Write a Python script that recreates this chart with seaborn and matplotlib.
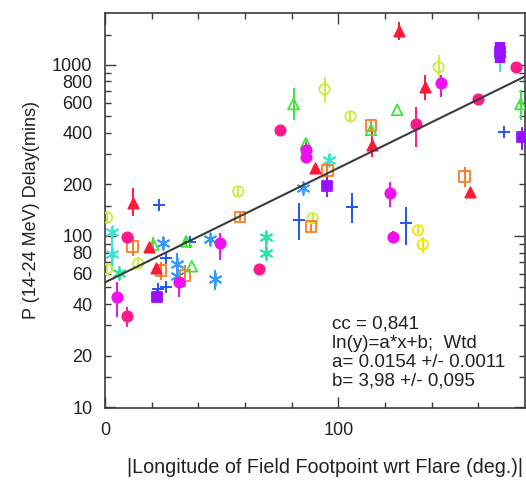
import numpy as np
import matplotlib
matplotlib.use("Agg")
import matplotlib.pyplot as plt
import matplotlib.ticker as mticker
import seaborn as sns

# ── Data ──────────────────────────────────────────────────────────────────────
# yellow-green open circles
ygc_x  = [0.9, 0.9, 14.2, 57.1, 89.0, 94.1, 105.2, 143.0]
ygc_y  = [128, 64, 69, 182, 127, 721, 500, 969]
ygc_lo = [118, 59, 64, 168, 117, 600, 462, 839]
ygc_hi = [139, 69, 75, 197, 137, 851, 541, 1144]

# yellow open circles
yel_x  = [134.2, 136.2]
yel_y  = [108, 89]
yel_lo = [102, 80]
yel_hi = [114, 99]

# orange open squares
ors_x  = [11.9, 24.0, 34.3, 57.9, 88.3, 95.2, 114.0, 154.2]
ors_y  = [87, 63, 59, 129, 113, 241, 440, 222]
ors_lo = [76, 55, 50, 121, 106, 212, 412, 194]
ors_hi = [100, 70, 68, 137, 121, 272, 470, 254]

# deep pink filled circles
dpk_x  = [9.3, 9.3, 66.2, 75.1, 133.4, 160.0, 176.0]
dpk_y  = [99, 34, 64, 417, 450, 630, 977]
dpk_lo = [93, 29.5, 64, 400, 333, 630, 977]
dpk_hi = [106, 38.6, 64, 435, 570, 630, 977]

# magenta filled circles
mag_x  = [5.0, 31.9, 49.1, 86.1, 86.1, 122.3, 123.3, 144.2]
mag_y  = [44, 54, 91, 318, 290, 178, 99, 788]
mag_lo = [33.7, 44, 72, 270, 270, 148, 92, 653]
mag_hi = [54, 59, 104, 350, 350, 208, 107, 874]

# red filled triangles
red_x  = [12.0, 18.9, 21.8, 90.1, 114.5, 126.2, 137.3, 156.4]
red_y  = [156, 86, 65, 249, 340, 1587, 747, 180]
red_lo = [130, 86, 65, 249, 290, 1400, 624, 180]
red_hi = [190, 86, 65, 249, 417, 1791, 874, 180]

# green open triangles
grt_x  = [20.7, 34.8, 37.2, 80.8, 86.1, 114.0, 125.2, 178.1]
grt_y  = [89, 93, 66.5, 591, 348, 417, 546, 591]
grt_lo = [79, 86, 66.5, 477, 330, 417, 546, 477]
grt_hi = [99, 100, 66.5, 734, 370, 417, 546, 714]

# cyan asterisks
cya_x  = [2.8, 2.8, 95.8, 169.3]
cya_y  = [105, 78.5, 278, 1150]
cya_lo = [86, 63, 262, 910]
cya_hi = [113, 96, 300, 1150]

# aquamarine asterisks
aqu_x  = [6.0, 69.1, 69.1]
aqu_y  = [61, 99, 80]
aqu_lo = [61, 74, 74]
aqu_hi = [61, 106, 106]

# light blue asterisks
lbl_x  = [25.0, 31.0, 31.0, 45.1, 47.1, 85.0]
lbl_y  = [91, 69, 58, 96, 56, 191]
lbl_lo = [84, 55, 55, 96, 48, 191]
lbl_hi = [99, 80, 80, 96, 63, 191]

# blue plus
blu_x  = [23.2, 26.2, 26.1, 22.9, 36.5, 83.3, 105.9, 129.1, 171.2]
blu_y  = [151, 74, 50, 49, 92, 124, 148, 119, 404]
blu_lo = [151, 74, 50, 49, 92, 95, 119, 89, 404]
blu_hi = [151, 74, 50, 49, 92, 156, 178, 148, 404]

# purple filled squares
pur_x  = [22.2, 95.2, 169.3, 178.8]
pur_y  = [44, 196, 1183, 378]
pur_lo = [41, 169, 1023, 318]
pur_hi = [48, 233, 1368, 436]

# weighted fit  ln(y) = a*x + b
FIT_A, FIT_B = 0.0154, 3.98
fit_x = [0, 180]

# ── Style ─────────────────────────────────────────────────────────────────────
sns.set_style("ticks")
plt.rcParams["font.family"] = ["Liberation Sans", "DejaVu Sans"]
TXT = "#222222"
AX = "#3c3c3c"

fig = plt.figure(figsize=(5.26, 4.83), dpi=100)
ax = fig.add_axes([0.1996, 0.1553, 0.7985, 0.8178])


def draw(x, y, lo, hi, color, marker, filled, s, lw=1.3):
    ax.vlines(x, lo, hi, color=color, lw=1.4, zorder=2)
    sns.scatterplot(x=x, y=y, ax=ax, marker=marker, s=s, color=color,
                    facecolor=color if filled else "none", edgecolor=color,
                    linewidth=lw, zorder=3, legend=False)


def draw_art(x, y, lo, hi, color, marker, s, lw=1.3):
    # line-art markers (+, asterisk) take their colour from the face
    ax.vlines(x, lo, hi, color=color, lw=1.4, zorder=2)
    sns.scatterplot(x=x, y=y, ax=ax, marker=marker, s=s, color=color,
                    linewidth=lw, zorder=3, legend=False)


ast = (6, 2, 0)
draw_art(cya_x, cya_y, cya_lo, cya_hi, "#33e6d6", ast, 80)
draw_art(aqu_x, aqu_y, aqu_lo, aqu_hi, "#1ee8a0", ast, 80)
draw_art(lbl_x, lbl_y, lbl_lo, lbl_hi, "#3399ff", ast, 80)
draw_art(blu_x, blu_y, blu_lo, blu_hi, "#2255f0", "+", 80, 1.4)
draw(ygc_x, ygc_y, ygc_lo, ygc_hi, "#c6ef3c", "o", False, 55)
draw(yel_x, yel_y, yel_lo, yel_hi, "#f2e600", "o", False, 55)
draw(ors_x, ors_y, ors_lo, ors_hi, "#ff7a1f", "s", False, 60)
draw(grt_x, grt_y, grt_lo, grt_hi, "#3de63d", "^", False, 60)
draw(red_x, red_y, red_lo, red_hi, "#ff1a3c", "^", True, 55)
draw(dpk_x, dpk_y, dpk_lo, dpk_hi, "#ff1a8c", "o", True, 55)
draw(mag_x, mag_y, mag_lo, mag_hi, "#ee10ee", "o", True, 55)
draw(pur_x, pur_y, pur_lo, pur_hi, "#9a10ff", "s", True, 60)
# one purple point has a wide, bar-like error band
ax.vlines(pur_x[2], pur_lo[2], pur_hi[2], color="#9a10ff", lw=7.5, zorder=3)

# fit line
fx = np.linspace(fit_x[0], fit_x[1], 50)
sns.lineplot(x=fx, y=np.exp(FIT_A * fx + FIT_B), ax=ax, color="#3a3a3a",
             lw=1.5, zorder=4)

# ── Axes ──────────────────────────────────────────────────────────────────────
ax.set_yscale("log")
ax.set_xlim(0, 180)
ax.set_ylim(9.87, 2010)

ax.xaxis.set_major_locator(mticker.FixedLocator([0, 100]))
ax.xaxis.set_major_formatter(mticker.FixedFormatter(["0", "100"]))
ax.xaxis.set_minor_locator(mticker.FixedLocator([20, 40, 60, 80, 120, 140, 160]))

y_major = [10, 100, 1000]
y_minor = [15, 20, 30, 40, 50, 60, 70, 80, 90, 150, 200, 300, 400,
           500, 600, 700, 800, 900, 1500]
y_minor_lab = {20, 40, 60, 80, 200, 400, 600, 800}
ax.yaxis.set_major_locator(mticker.FixedLocator(y_major))
ax.yaxis.set_major_formatter(mticker.FuncFormatter(lambda v, p: f"{v:g}"))
ax.yaxis.set_minor_locator(mticker.FixedLocator(y_minor))
ax.yaxis.set_minor_formatter(mticker.FuncFormatter(
    lambda v, p: f"{v:g}" if round(v) in y_minor_lab else ""))

ax.tick_params(which="both", direction="in", top=True, right=True,
               color=AX, width=1.0, labelsize=13, labelcolor=TXT)
ax.tick_params(which="major", length=8)
ax.tick_params(which="minor", length=4.5)
ax.tick_params(axis="x", which="both", pad=10)
ax.tick_params(axis="y", which="both", pad=9)

for sp in ax.spines.values():
    sp.set_color(AX)
    sp.set_linewidth(1.2)

ax.set_xlabel("|Longitude of Field Footpoint wrt Flare (deg.)|",
              fontsize=14.2, color=TXT)
ax.xaxis.set_label_coords(0.525, -0.126)
ax.set_ylabel("P (14-24 MeV) Delay(mins)", fontsize=13, color=TXT,
              labelpad=9)

# fit annotation
ann = ["cc = 0,841",
       "ln(y)=a*x+b;  Wtd",
       "a= 0.0154 +/- 0.0011",
       "b= 3,98 +/- 0,095"]
for i, line in enumerate(ann):
    ax.text(0.540, 0.2013 - i * 0.0485, line, transform=ax.transAxes,
            fontsize=13.5, color=TXT, va="baseline", ha="left")

fig.savefig("out.png", dpi=100)
